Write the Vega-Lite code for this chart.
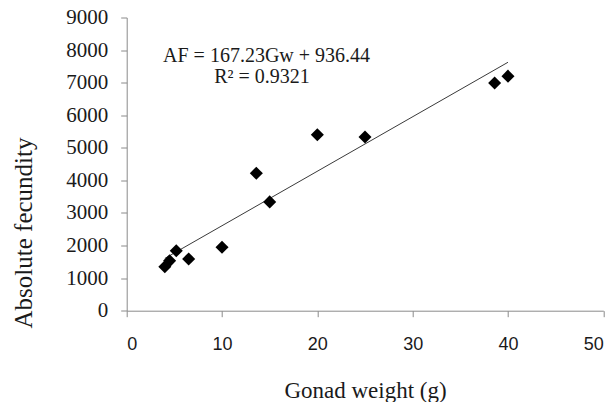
{
  "$schema": "https://vega.github.io/schema/vega-lite/v6.json",
  "width": 476.6,
  "height": 293.2,
  "autosize": {"type": "none"},
  "padding": {"left": 126.7, "top": 17.5, "right": 11.7, "bottom": 91.3},
  "background": "white",
  "config": {
    "view": {"stroke": null},
    "axis": {"grid": false, "domainColor": "#8a8a8a", "tickColor": "#8a8a8a", "tickSize": 6, "domainWidth": 1, "tickWidth": 1, "titleFontWeight": "normal", "labelColor": "#1a1a1a", "titleColor": "#1a1a1a"}
  },
  "datasets": {
    "points": [
      {"gonad": 4.0, "fecundity": 1350},
      {"gonad": 4.5, "fecundity": 1530},
      {"gonad": 5.2, "fecundity": 1840},
      {"gonad": 6.5, "fecundity": 1590},
      {"gonad": 10.0, "fecundity": 1950},
      {"gonad": 13.6, "fecundity": 4220},
      {"gonad": 15.0, "fecundity": 3340},
      {"gonad": 20.0, "fecundity": 5400},
      {"gonad": 25.0, "fecundity": 5330},
      {"gonad": 38.6, "fecundity": 6990},
      {"gonad": 40.0, "fecundity": 7200}
    ],
    "trend": [
      {"gonad": 4.0, "fecundity": 1605.4},
      {"gonad": 40.0, "fecundity": 7625.6}
    ],
    "eq": [
      {"gonad": 14.67, "fecundity": 7643, "label": "AF = 167.23Gw + 936.44"},
      {"gonad": 14.19, "fecundity": 6980, "label": "R² = 0.9321"}
    ]
  },
  "encoding": {
    "x": {
      "field": "gonad", "type": "quantitative",
      "scale": {"domain": [0, 50], "nice": false},
      "axis": {
        "values": [0, 10, 20, 30, 40, 50],
        "labelFont": "Liberation Sans", "labelFontSize": 18, "labelPadding": 19,
        "title": "Gonad weight (g)", "titleFont": "Liberation Serif", "titleFontSize": 23,
        "titleBaseline": "alphabetic", "titleY": 87
      }
    },
    "y": {
      "field": "fecundity", "type": "quantitative",
      "scale": {"domain": [0, 9000], "nice": false},
      "axis": {
        "values": [0, 1000, 2000, 3000, 4000, 5000, 6000, 7000, 8000, 9000],
        "format": "d",
        "labelFont": "Liberation Serif", "labelFontSize": 21, "labelPadding": 13,
        "title": "Absolute fecundity", "titleFont": "Liberation Serif", "titleFontSize": 25,
        "titleAngle": -90, "titleBaseline": "alphabetic", "titleAlign": "center",
        "titleX": -95.5, "titleY": 215
      }
    }
  },
  "layer": [
    {
      "data": {"name": "trend"},
      "mark": {"type": "line", "color": "#3a3a3a", "strokeWidth": 1}
    },
    {
      "data": {"name": "points"},
      "mark": {"type": "point", "shape": "diamond", "filled": true, "size": 170, "color": "black", "opacity": 1}
    },
    {
      "data": {"name": "eq"},
      "mark": {"type": "text", "font": "Liberation Serif", "fontSize": 20, "baseline": "alphabetic", "align": "center", "color": "#1a1a1a"},
      "encoding": {
        "text": {"field": "label"}
      }
    }
  ]
}
